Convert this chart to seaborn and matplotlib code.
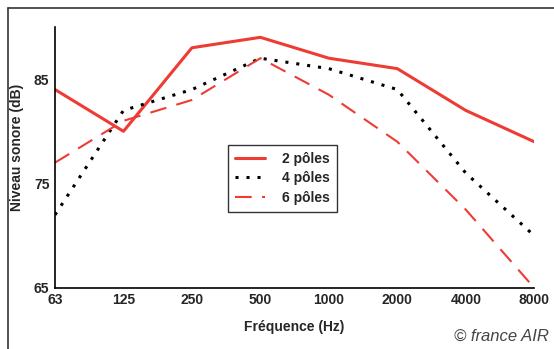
import pandas as pd
import seaborn as sns
import matplotlib.pyplot as plt
from matplotlib.lines import Line2D

frequences = ["63", "125", "250", "500", "1000", "2000", "4000", "8000"]
poles_2 = [84, 80, 88, 89, 87, 86, 82, 79]
poles_4 = [72, 82, 84, 87, 86, 84, 76, 70]
poles_6 = [77, 81, 83, 87, 83.5, 79, 72.5, 65]
series = ["2 pôles", "4 pôles", "6 pôles"]

tabela = pd.DataFrame({
    "pos": list(range(len(frequences))) * 3,
    "niveau": poles_2 + poles_4 + poles_6,
    "serie": [s for s in series for _ in frequences],
})

sns.set_style("white")
plt.rcParams["font.family"] = ["Liberation Sans", "DejaVu Sans"]

fig = plt.figure(figsize=(5.54, 3.49), dpi=100)
ax = fig.add_axes([0.0993, 0.175, 0.865, 0.748])

rouge = "#ee3b34"
cores = {"2 pôles": rouge, "4 pôles": "black", "6 pôles": rouge}
tracos = {"2 pôles": "", "4 pôles": (1, 2.6), "6 pôles": (8, 5)}
larguras = {"2 pôles": 2.2, "4 pôles": 2.2, "6 pôles": 1.5}
for s in series:
    sns.lineplot(data=tabela[tabela["serie"] == s], x="pos", y="niveau",
                 color=cores[s], linewidth=larguras[s], ax=ax,
                 linestyle=(0, tracos[s]) if tracos[s] else "-")

ax.set_xlim(0, len(frequences) - 1)
ax.set_ylim(65, 90)
ax.set_xticks(range(len(frequences)))
ax.set_xticklabels(frequences, fontweight="bold", fontsize=10)
ax.set_yticks([65, 75, 85])
ax.set_yticklabels(["65", "75", "85"], fontweight="bold", fontsize=10)
ax.tick_params(direction="in", length=5, width=1.2, color="black", pad=4)
ax.xaxis.get_major_ticks()[2].tick1line.set_color("#1f6fd0")
for s in ["top", "right"]:
    ax.spines[s].set_visible(False)
for s in ["left", "bottom"]:
    ax.spines[s].set_color("black")
    ax.spines[s].set_linewidth(1.2)

ax.set_xlabel("Fréquence (Hz)", fontweight="bold", fontsize=10)
ax.xaxis.set_label_coords(0.5, -0.123)
ax.set_ylabel("Niveau sonore (dB)", fontweight="bold", fontsize=10)
ax.yaxis.set_label_coords(-0.065, 0.54)

handles = [Line2D([], [], color=cores[s], linewidth=larguras[s],
                  linestyle=(0, tracos[s]) if tracos[s] else "-") for s in series]
leg = ax.legend(handles, series, loc="upper left", bbox_to_anchor=(0.346, 0.575),
                frameon=True, fancybox=False, edgecolor="black",
                handlelength=2.2, handletextpad=1.2, borderpad=0.5, labelspacing=0.4,
                prop={"weight": "bold", "size": 10})
leg.get_frame().set_linewidth(1)

# cadre exterieur
fig.add_artist(Line2D([8 / 554, 8 / 554], [0, 1 - 8 / 349], transform=fig.transFigure,
                      color="#333333", linewidth=1.2))
fig.add_artist(Line2D([8 / 554, 1], [1 - 8 / 349, 1 - 8 / 349], transform=fig.transFigure,
                      color="#333333", linewidth=1.2))
fig.text(0.99, 0.015, "© france AIR", ha="right", va="bottom", fontsize=12,
         style="italic", color="#444444")

fig.savefig("out.png", dpi=100)
